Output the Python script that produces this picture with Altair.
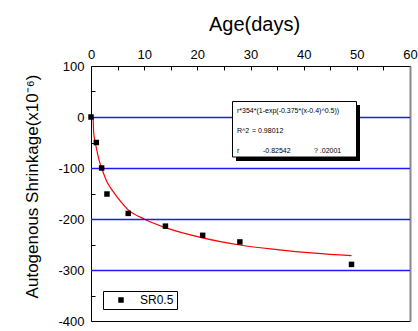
import altair as alt
import pandas as pd

# measured data
age = [0, 1, 2, 3, 7, 14, 21, 28, 49]
shrinkage = [0, -50, -100, -151, -189, -214, -232, -245, -289]
series_name = ["SR0.5"] * len(age)

# fitted curve
fit_age = [0.4, 0.5, 0.7, 1, 1.5, 2, 3, 4, 5, 7, 10, 14, 21, 28, 35, 42, 49]
fit_shrink = [0, -30, -45, -60, -84, -100, -127, -144, -158, -182, -200, -217, -237, -251, -260, -267, -272]

x_ticks = [0, 5, 10, 15, 20, 25, 30, 35, 40, 45, 50, 55, 60]
y_ticks = [100, 50, 0, -50, -100, -150, -200, -250, -300, -350, -400]
grid_values = [0, -100, -200, -300]

fit_text_1 = "r*354*(1-exp(-0.375*(x-0.4)^0.5))"
fit_text_2 = ["R^2", "= 0.98012"]
fit_text_3 = ["r", "-0.82542", "? .02001"]

FONT = "Liberation Sans"

pts = pd.DataFrame({"age": age, "shrinkage": shrinkage, "series": series_name})
fit = pd.DataFrame({"age": fit_age, "shrinkage": fit_shrink})
grid = pd.DataFrame({"g": grid_values})
one = pd.DataFrame({"k": [0]})

xs = alt.Scale(domain=[0, 60], nice=False, zero=False)
ys = alt.Scale(domain=[-400, 100], nice=False, zero=False)

points = alt.Chart(pts).mark_point(shape="square", filled=True, size=30, opacity=1).encode(
    x=alt.X("age:Q", scale=xs, axis=alt.Axis(
        orient="top", title="Age(days)", values=x_ticks, offset=-4, tickSize=4,
        domain=False, grid=False, tickColor="black",
        labelExpr="datum.value % 10 == 0 ? '' + datum.value : ''",
        labelFont=FONT, labelFontSize=13, labelColor="black", labelPadding=8,
        labelBaseline="alphabetic", labelFlush=False,
        titleFont=FONT, titleFontSize=20, titleFontWeight="normal", titleColor="black",
        titleX=163, titleY=-40, titleBaseline="alphabetic")),
    y=alt.Y("shrinkage:Q", scale=ys, axis=alt.Axis(
        orient="left", title="Autogenous Shrinkage(x10⁻⁶)", values=y_ticks, offset=-4, tickSize=4,
        domain=False, grid=False, tickColor="black",
        labelExpr="datum.value % 100 == 0 ? '' + datum.value : ''",
        labelFont=FONT, labelFontSize=13, labelColor="black", labelPadding=7,
        labelBaseline="middle", labelFlush=False,
        titleFont=FONT, titleFontSize=17, titleFontWeight="normal", titleColor="black",
        titleX=-63, titleY=120, titleBaseline="middle", titleAngle=-90)),
    color=alt.Color("series:N", scale=alt.Scale(range=["black"]), legend=alt.Legend(
        orient="none", legendX=12, legendY=225, title=None, strokeColor="black",
        fillColor="white", padding=3, symbolType="square", symbolSize=30,
        symbolOffset=9, labelOffset=13, labelFont=FONT, labelFontSize=12,
        labelColor="black", symbolStrokeWidth=0)),
)

line = alt.Chart(fit).mark_line(color="#ff0000", strokeWidth=1.2, interpolate="monotone").encode(
    x=alt.X("age:Q", scale=xs, axis=alt.Axis(
        orient="bottom", title=None, labels=False, ticks=False, domain=False, grid=False)),
    y=alt.Y("shrinkage:Q", scale=ys, axis=alt.Axis(
        orient="right", title=None, labels=False, ticks=False, domain=True,
        domainColor="#888888", domainWidth=2, grid=False)),
)

gridlines = alt.Chart(grid).mark_rule(color="#1a1aff", strokeWidth=1.3, yOffset=0.5).encode(
    y=alt.Y("g:Q", scale=ys, axis=None))

shadow = alt.Chart(one).mark_rect(color="black").encode(
    x=alt.value(145), x2=alt.value(269), y=alt.value(39), y2=alt.value(95))
box = alt.Chart(one).mark_rect(fill="white", stroke="black", strokeWidth=1).encode(
    x=alt.value(141.5), x2=alt.value(265.5), y=alt.value(35.5), y2=alt.value(91))

def label(txt, px, py):
    return alt.Chart(one).mark_text(align="left", baseline="middle", font=FONT,
                                    fontSize=7, color="black").encode(
        x=alt.value(px), y=alt.value(py), text=alt.value(txt))

texts = [
    label(fit_text_1, 146, 45),
    label(fit_text_2[0], 146, 65),
    label(fit_text_2[1], 161, 65),
    label(fit_text_3[0], 146, 85),
    label(fit_text_3[1], 172, 85),
    label(fit_text_3[2], 223, 85),
]

chart = alt.layer(line, gridlines, points, shadow, box, *texts).resolve_axis(
    x="independent", y="independent"
).properties(
    width=319, height=255,
    autosize=alt.AutoSizeParams(type="none"),
    padding={"left": 91, "top": 66, "right": 8, "bottom": 10},
).configure_view(stroke="black", strokeWidth=1)

chart.save("out.html", embed_options={"renderer": "svg", "actions": False})
